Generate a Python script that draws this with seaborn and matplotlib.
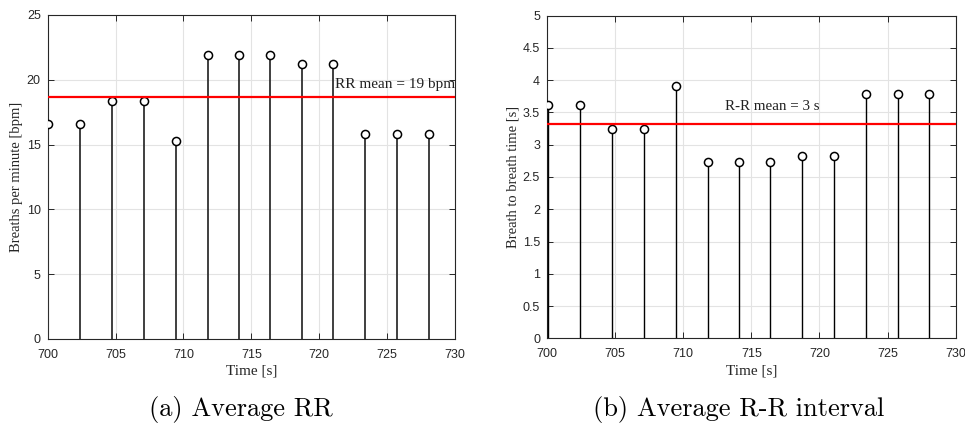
import matplotlib
matplotlib.use("Agg")
import matplotlib.pyplot as plt
import seaborn as sns
import pandas as pd

# Breath onset times [s]
times = [700.05, 702.4, 704.75, 707.1, 709.45, 711.8, 714.1, 716.4,
         718.75, 721.05, 723.4, 725.75, 728.05]
# Instantaneous respiratory rate [bpm]
rate_bpm = [16.6, 16.6, 18.4, 18.4, 15.3, 21.9, 21.9, 21.9,
            21.2, 21.2, 15.8, 15.8, 15.8]
# Breath-to-breath interval [s]
interval_s = [3.61, 3.61, 3.25, 3.25, 3.91, 2.73, 2.73, 2.73,
              2.82, 2.82, 3.78, 3.78, 3.78]
# Window means
rate_mean = 18.65
interval_mean = 3.32

x_ticks = [700, 705, 710, 715, 720, 725, 730]
y_ticks_rate = [0, 5, 10, 15, 20, 25]
y_ticks_interval = [0, 0.5, 1, 1.5, 2, 2.5, 3, 3.5, 4, 4.5, 5]

sns.set_theme(style="whitegrid")
plt.rcParams["font.family"] = ["Liberation Sans", "DejaVu Sans"]

serif = ["Liberation Serif", "DejaVu Serif"]
axis_col = "#262626"

fig = plt.figure(figsize=(9.65, 4.25), dpi=100)
ax1 = fig.add_axes([0.0494, 0.2024, 0.4221, 0.7624])
ax2 = fig.add_axes([0.5668, 0.2040, 0.4236, 0.7591])

df = pd.DataFrame({"time": times, "rate": rate_bpm, "interval": interval_s})


def style_axes(ax, yticks, ylim):
    ax.set_facecolor("white")
    ax.set_xlim(700, 730)
    ax.set_ylim(*ylim)
    ax.set_xticks(x_ticks)
    ax.set_yticks(yticks)
    ax.set_yticklabels([f"{t:g}" for t in yticks])
    ax.grid(True, color="#e3e3e3", linewidth=0.8)
    ax.set_axisbelow(True)
    for s in ax.spines.values():
        s.set_visible(True)
        s.set_color(axis_col)
        s.set_linewidth(0.8)
    ax.tick_params(direction="in", length=4, width=0.7, color=axis_col,
                   top=True, right=True, bottom=True, left=True,
                   labelsize=9, labelcolor=axis_col)
    ax.tick_params(axis="x", pad=7)
    ax.tick_params(axis="y", pad=5)


def stem(ax, ycol, color, lw):
    ax.vlines(df["time"], 0, df[ycol], colors=color, linewidth=lw, zorder=3)
    sns.scatterplot(data=df, x="time", y=ycol, ax=ax, marker="o", s=34,
                    facecolor="white", edgecolor="black", linewidth=1.1,
                    zorder=4, legend=False)


# Respiratory rate
style_axes(ax1, y_ticks_rate, (0, 25))
stem(ax1, "rate", "#303030", 1.3)
ax1.axhline(rate_mean, color="red", linewidth=1.6, zorder=5)
ax1.text(721.15, 19.34, f"RR mean = {round(rate_mean)} bpm", family=serif,
         fontsize=11, color="#202020", va="baseline", ha="left", zorder=6)
ax1.set_xlabel("Time [s]", family=serif, fontsize=11, color=axis_col, labelpad=3)
ax1.set_ylabel("Breaths per minute [bpm]", family=serif, fontsize=10.5,
               color=axis_col, labelpad=3)

# Breath-to-breath interval
style_axes(ax2, y_ticks_interval, (0, 5))
stem(ax2, "interval", "black", 1.0)
ax2.axhline(interval_mean, color="red", linewidth=1.6, zorder=5)
ax2.text(713.07, 3.54, f"R-R mean = {round(interval_mean)} s", family=serif,
         fontsize=10.8, color="#202020", va="baseline", ha="left", zorder=6)
ax2.set_xlabel("Time [s]", family=serif, fontsize=11, color=axis_col, labelpad=3)
ax2.set_ylabel("Breath to breath time [s]", family=serif, fontsize=10.5,
               color=axis_col, labelpad=2)

# Sub-figure captions
fig.text(0.250, 0.005, "(a) Average RR", family=["cmr10", "DejaVu Serif"],
         fontsize=19, ha="center", va="bottom", color="black")
fig.text(0.765, 0.005, "(b) Average R-R interval", family=["cmr10", "DejaVu Serif"],
         fontsize=19, ha="center", va="bottom", color="black")

fig.savefig("out.png", dpi=100)
